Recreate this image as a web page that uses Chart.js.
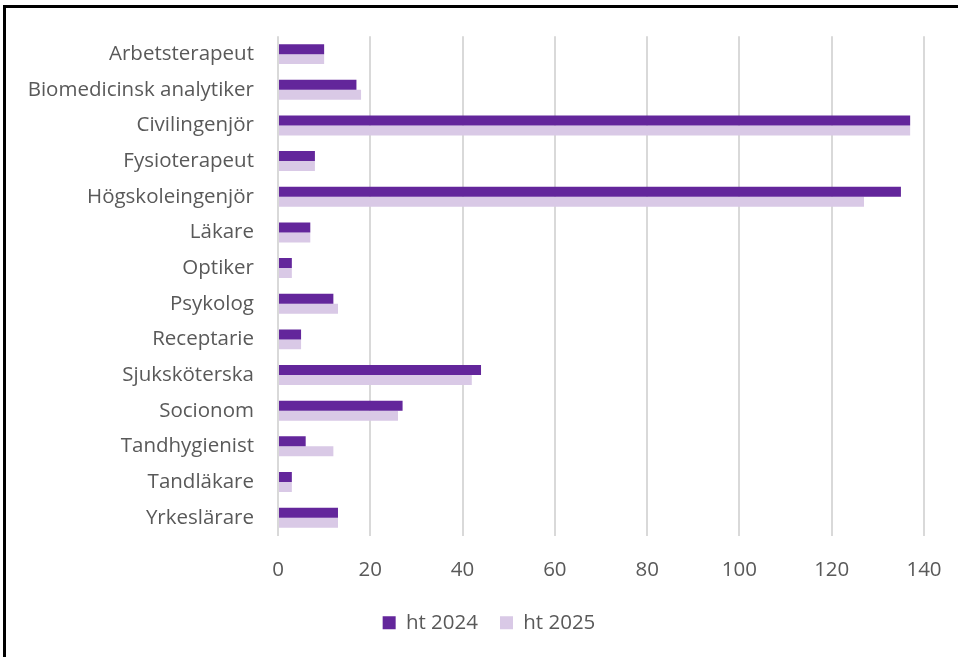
<!DOCTYPE html>
<html>
<head>
<meta charset="utf-8">
<script src="https://cdn.jsdelivr.net/npm/chart.js@4.4.1/dist/chart.umd.min.js"></script>
<style>
  html, body { margin: 0; padding: 0; background: #fff; overflow: hidden; }
  #frame { position: absolute; left: 3px; top: 5px; width: 955px; height: 652px;
           border-left: 3px solid #000; border-top: 3px solid #000; box-sizing: border-box; }
  #wrap { position: absolute; left: 0; top: 0; width: 958px; height: 657px; }
</style>
</head>
<body>
<div id="frame"></div>
<div id="wrap"><canvas id="chart" width="958" height="657"></canvas></div>
<script>
// ── DATA ───────────────────────────────────────────────────────
const categories = [
  'Arbetsterapeut', 'Biomedicinsk analytiker', 'Civilingenjör', 'Fysioterapeut',
  'Högskoleingenjör', 'Läkare', 'Optiker', 'Psykolog', 'Receptarie',
  'Sjuksköterska', 'Socionom', 'Tandhygienist', 'Tandläkare', 'Yrkeslärare'
];
const ht2024 = [10, 17, 137, 8, 135, 7, 3, 12, 5, 44, 27, 6, 3, 13];
const ht2025 = [10, 18, 137, 8, 127, 7, 3, 13, 5, 42, 26, 12, 3, 13];
const xTicks = [0, 20, 40, 60, 80, 100, 120, 140];

const FONT = "'Open Sans', 'Noto Sans', sans-serif";
const TXT = '#595959';

// shift the legend a bit to the right, like the original
const legendShift = {
  id: 'legendShift',
  afterLayout(chart) {
    if (chart.legend) { chart.legend.left += 27; chart.legend.right += 27; }
  }
};

// ── CHART ──────────────────────────────────────────────────────
const ctx = document.getElementById('chart').getContext('2d');
new Chart(ctx, {
  type: 'bar',
  data: {
    labels: categories,
    datasets: [
      { label: 'ht 2024', data: ht2024, backgroundColor: '#63269b', borderWidth: 0 },
      { label: 'ht 2025', data: ht2025, backgroundColor: '#d9c9e6', borderWidth: 0 }
    ]
  },
  plugins: [legendShift],
  options: {
    indexAxis: 'y',
    responsive: false,
    animation: false,
    layout: { padding: { top: 35, right: 34, bottom: 14, left: 0 } },
    datasets: { bar: { barPercentage: 1, categoryPercentage: 0.56 } },
    plugins: {
      tooltip: { enabled: false },
      legend: {
        position: 'bottom',
        labels: { color: TXT, font: { family: FONT, size: 20.5 }, boxWidth: 13, boxHeight: 13, padding: 22 }
      }
    },
    scales: {
      x: {
        min: 0, max: 140,
        afterBuildTicks: s => { s.ticks = xTicks.map(v => ({ value: v })); },
        grid: { color: '#d9d9d9', lineWidth: 2, drawTicks: false },
        border: { display: false },
        ticks: { color: TXT, font: { family: FONT, size: 20.5 }, padding: 22 },
        afterFit: s => { s.height = 55; s.paddingLeft = 0; s.paddingRight = 0; }
      },
      y: {
        grid: { display: false, drawTicks: false },
        border: { display: false },
        ticks: { color: TXT, font: { family: FONT, size: 20.5 }, padding: 24, autoSkip: false },
        afterFit: s => { s.width = 278; }
      }
    }
  }
});
</script>
</body>
</html>
